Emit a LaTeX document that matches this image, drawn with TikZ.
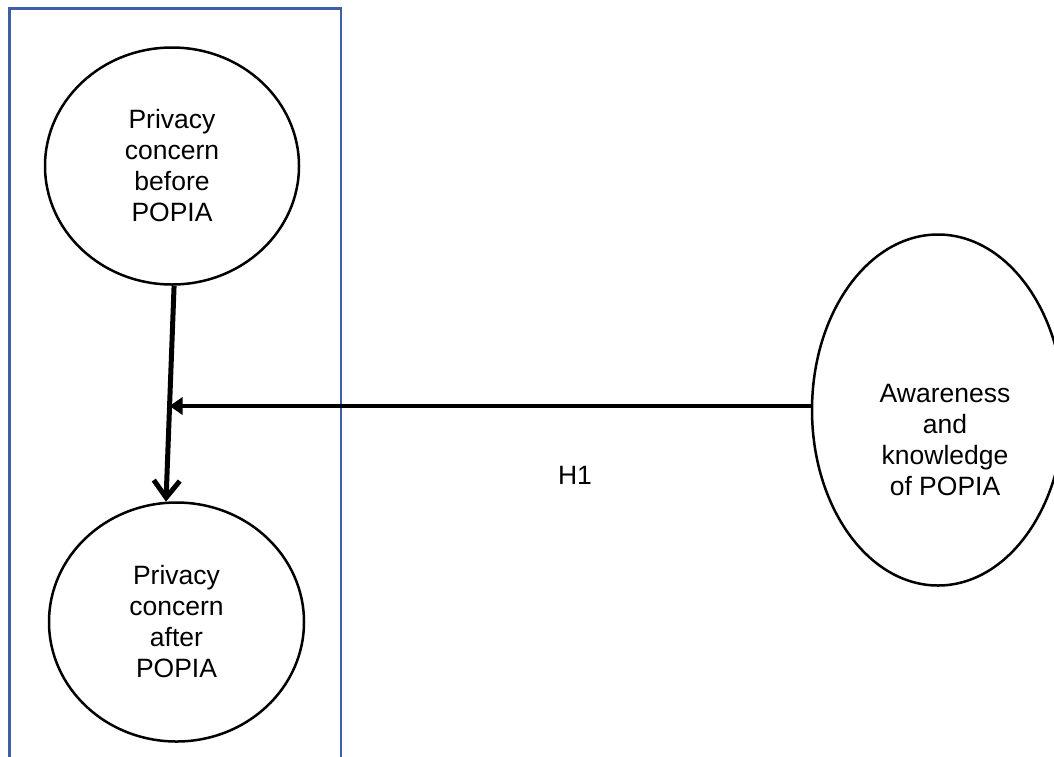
\documentclass[tikz,border=0pt]{standalone}
\usepackage{fontspec}
\setmainfont{Liberation Sans}
\usetikzlibrary{arrows.meta,shapes.geometric,calc}
\definecolor{frameblue}{RGB}{60,95,165}
\begin{document}
\begin{tikzpicture}[x=1pt,y=-1pt,
  txt/.style={align=center,font=\fontsize{26.5}{31}\selectfont},
  concept/.style={ellipse,draw,line width=2.5pt,inner sep=0pt,txt},
  groupframe/.style={draw=frameblue,line width=2.5pt},
  mainarrow/.style={line width=5pt,-{Straight Barb[length=17pt,width=26pt]}},
  sidearrow/.style={line width=3.5pt,-{Triangle[length=13pt,width=17pt]}}
]
\useasboundingbox (0,0) rectangle (1054,756);
\clip (0,0) rectangle (1054,756);
\draw[groupframe] (9.5,8.5) rectangle (341,800);
\node[concept,minimum width=254pt,minimum height=237pt] (before) at (172,166) {Privacy\\concern\\before\\POPIA};
\node[concept,minimum width=255pt,minimum height=239pt] (after) at (176.5,622) {Privacy\\concern\\after\\POPIA};
\node[concept,minimum width=252pt,minimum height=351pt] (aware) at (938,410) {};
\node[txt] (awaretext) at (945,440) {Awareness\\and\\knowledge\\of POPIA};
\node[txt] (h1) at (575,475) {H1};
\coordinate (join) at (169.5,406);
\draw[mainarrow] (before.-89) -- (after.95.5);
\draw[sidearrow] (aware.west |- join) -- (join);
\end{tikzpicture}
\end{document}
